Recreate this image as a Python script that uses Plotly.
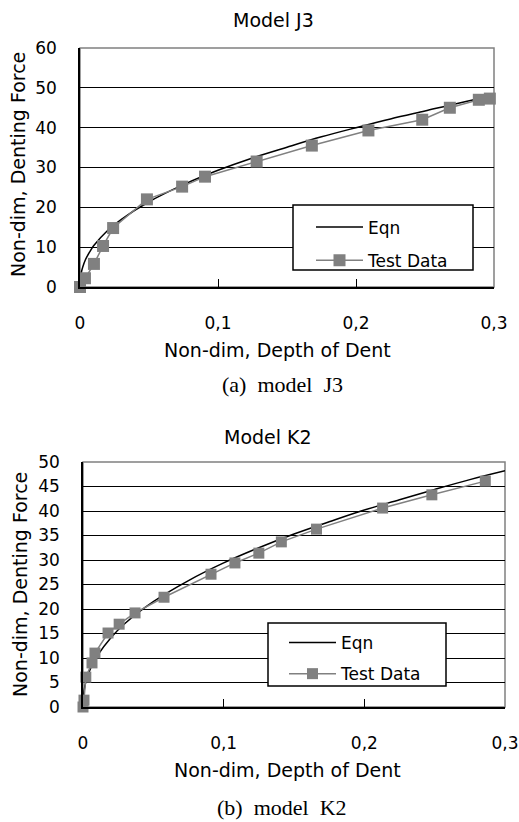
import plotly.graph_objects as go

W, H = 519, 822

# ---- Data: Model J3 ----
j3_test_x = [0, 0.0036, 0.0101, 0.0167, 0.024, 0.0485, 0.074, 0.0906, 0.128, 0.168, 0.209, 0.248, 0.268, 0.289, 0.297]
j3_test_y = [0, 2.2, 5.8, 10.3, 14.8, 22.0, 25.2, 27.7, 31.5, 35.5, 39.3, 42.0, 45.0, 47.0, 47.3]
eqn_x = [0, 0.0002, 0.001, 0.002, 0.004, 0.007, 0.01, 0.02, 0.03, 0.05, 0.075, 0.1, 0.125, 0.15, 0.175, 0.2, 0.225, 0.25, 0.275, 0.3]
j3_eqn_y = [0, 1.8, 3.7, 5.0, 6.9, 8.8, 10.4, 14.2, 17.0, 21.4, 25.7, 29.3, 32.4, 35.1, 37.7, 40.0, 42.2, 44.2, 46.2, 48.0]

# ---- Data: Model K2 ----
k2_test_x = [0, 0.0007, 0.002, 0.0064, 0.0085, 0.0178, 0.0257, 0.037, 0.0576, 0.091, 0.108, 0.125, 0.141, 0.166, 0.213, 0.248, 0.286]
k2_test_y = [0, 1.4, 6.1, 9.0, 11.0, 15.1, 16.9, 19.2, 22.4, 27.1, 29.4, 31.4, 33.7, 36.3, 40.6, 43.3, 46.1]
k2_eqn_y = [0, 1.8, 3.7, 5.1, 6.9, 8.9, 10.4, 14.2, 17.1, 21.5, 25.8, 29.4, 32.5, 35.3, 37.8, 40.2, 42.3, 44.4, 46.4, 48.2]

x_ticks = [0, 0.1, 0.2, 0.3]
x_tick_text = ["0", "0,1", "0,2", "0,3"]
j3_y_ticks = [0, 10, 20, 30, 40, 50, 60]
k2_y_ticks = [0, 5, 10, 15, 20, 25, 30, 35, 40, 45, 50]

SANS = "DejaVu Sans, Verdana, sans-serif"
SERIF = "Liberation Serif, Times New Roman, serif"
GRAY = "#808080"

def px(x):
    return x / W

def py(y):
    return 1 - y / H

fig = go.Figure()

fig.add_trace(go.Scatter(x=eqn_x, y=j3_eqn_y, mode="lines", name="Eqn",
                         line=dict(color="black", width=1.5, shape="spline"),
                         xaxis="x", yaxis="y", legend="legend", legendgroup="a1", cliponaxis=False))
fig.add_trace(go.Scatter(x=j3_test_x, y=j3_test_y, mode="lines+markers", name="Test Data",
                         line=dict(color=GRAY, width=1.5),
                         marker=dict(symbol="square", size=12, color=GRAY),
                         xaxis="x", yaxis="y", legend="legend", legendgroup="a2", cliponaxis=False))
fig.add_trace(go.Scatter(x=eqn_x, y=k2_eqn_y, mode="lines", name="Eqn",
                         line=dict(color="black", width=1.5, shape="spline"),
                         xaxis="x2", yaxis="y2", legend="legend2", legendgroup="b1", cliponaxis=False))
fig.add_trace(go.Scatter(x=k2_test_x, y=k2_test_y, mode="lines+markers", name="Test Data",
                         line=dict(color=GRAY, width=1.5),
                         marker=dict(symbol="square", size=11, color=GRAY),
                         xaxis="x2", yaxis="y2", legend="legend2", legendgroup="b2", cliponaxis=False))

tickfont = dict(family=SANS, size=17, color="black")

xcommon = dict(range=[0, 0.3], tickvals=x_ticks, ticktext=x_tick_text, showgrid=False,
               zeroline=False, showline=True, linecolor="black", linewidth=1.5,
               ticks="inside", ticklen=8, tickcolor="black", tickwidth=1,
               tickfont=tickfont, ticklabelstandoff=20, fixedrange=True, automargin=False)
ycommon = dict(showgrid=True, gridcolor="black", gridwidth=1, zeroline=False,
               showline=True, linecolor="black", linewidth=1.5, ticks="",
               tickfont=tickfont, ticklabelstandoff=18, fixedrange=True, automargin=False)

legend_common = dict(xanchor="left", yanchor="top", bgcolor="rgba(0,0,0,0)",
                     borderwidth=0, font=dict(family=SANS, size=17, color="black"),
                     itemwidth=47, traceorder="grouped")

fig.update_layout(
    width=W, height=H,
    margin=dict(l=0, r=0, t=0, b=0, autoexpand=False),
    paper_bgcolor="white", plot_bgcolor="white",
    xaxis=dict(domain=[px(80), px(494)], anchor="y", **xcommon),
    yaxis=dict(domain=[py(287), py(48)], anchor="x", range=[0, 60], tickvals=j3_y_ticks, **ycommon),
    xaxis2=dict(domain=[px(83), px(505)], anchor="y2", **xcommon),
    yaxis2=dict(domain=[py(707), py(462)], anchor="x2", range=[0, 50], tickvals=k2_y_ticks, **ycommon),
    legend=dict(x=px(311), y=py(209.5), tracegroupgap=8, **legend_common),
    legend2=dict(x=px(284), y=py(625), tracegroupgap=6, **legend_common),
    showlegend=True,
)

# gray frame around plot areas
for xr, yr in (("x", "y"), ("x2", "y2")):
    fig.add_shape(type="rect", xref=f"{xr} domain", yref=f"{yr} domain",
                  x0=0, x1=1, y0=0, y1=1, line=dict(color=GRAY, width=1.5), layer="below")

# legend boxes
for (x0, y0, x1, y1) in ((293, 205, 473, 270), (268, 623, 446, 686)):
    fig.add_shape(type="rect", xref="paper", yref="paper",
                  x0=px(x0), x1=px(x1), y0=py(y1), y1=py(y0),
                  line=dict(color="black", width=1.5), fillcolor="white", layer="above")

def ann(text, x, y, font, angle=0):
    fig.add_annotation(text=text, x=px(x), y=py(y), xref="paper", yref="paper",
                       showarrow=False, font=font, textangle=angle,
                       xanchor="center", yanchor="middle")

title_font = dict(family=SANS, size=19, color="black")
cap_font = dict(family=SERIF, size=22, color="black")

ann("Model J3", 273, 20, title_font)
ann("Non-dim, Denting Force", 18, 165, title_font, -90)
ann("Non-dim, Depth of Dent", 277, 350, title_font)
ann("(a)  model  J3", 282, 385, cap_font)

ann("Model K2", 268, 437, title_font)
ann("Non-dim, Denting Force", 20, 585, title_font, -90)
ann("Non-dim, Depth of Dent", 287, 770, title_font)
ann("(b)  model  K2", 282, 807, cap_font)

fig.write_html("out.html", config={"displayModeBar": False},
               post_script="document.body.style.margin='0px';document.body.style.padding='0px';")
